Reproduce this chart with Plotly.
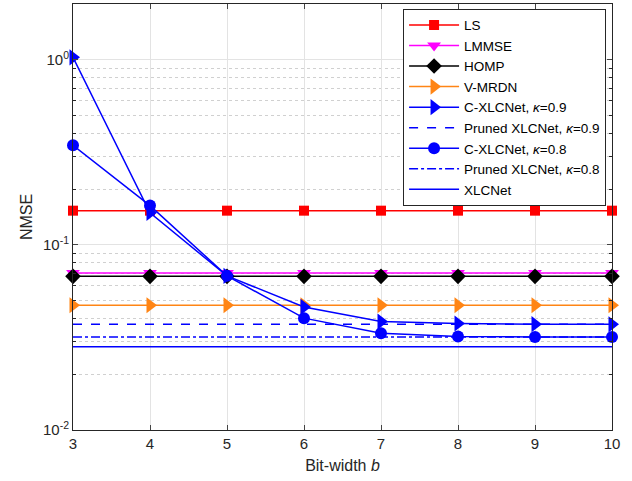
import plotly.graph_objects as go

bits = [3, 4, 5, 6, 7, 8, 9, 10]
ls = [0.153] * 8
lmmse = [0.0705] * 8
homp = [0.0676] * 8
vmrdn = [0.0472] * 8
cx09 = [1.03, 0.149, 0.068, 0.0462, 0.0385, 0.0376, 0.0373, 0.0372]
pr09 = [0.0373] * 8
cx08 = [0.345, 0.163, 0.068, 0.0402, 0.0333, 0.0320, 0.0318, 0.0318]
pr08 = [0.0318] * 8
xlc = [0.0282] * 8

BLUE = "#0000FF"
fig = go.Figure()

def add(name, y, color, dash="solid", symbol=None, size=10):
    mode = "lines+markers" if symbol else "lines"
    fig.add_trace(go.Scatter(
        x=bits, y=y, name=name, mode=mode, cliponaxis=False,
        line=dict(color=color, width=1.5, dash=dash),
        marker=dict(symbol=symbol or "circle", size=size, color=color,
                    line=dict(width=0)),
    ))

add("LS", ls, "#FF0000", symbol="square", size=10)
add("LMMSE", lmmse, "#FF00FF", symbol="triangle-down", size=12)
add("HOMP", homp, "#000000", symbol="diamond", size=12)
add("V-MRDN", vmrdn, "#FF8515", symbol="triangle-right", size=14)
add("C-XLCNet, <i>κ</i>=0.9", cx09, BLUE, symbol="triangle-right", size=14)
add("Pruned XLCNet, <i>κ</i>=0.9", pr09, BLUE, dash="dash")
add("C-XLCNet, <i>κ</i>=0.8", cx08, BLUE, symbol="circle", size=12)
add("Pruned XLCNet, <i>κ</i>=0.8", pr08, BLUE, dash="dashdot")
add("XLCNet", xlc, BLUE)

fig.update_layout(
    width=632, height=481,
    margin=dict(l=73, r=20, t=4, b=51),
    paper_bgcolor="white", plot_bgcolor="white",
    font=dict(family="Liberation Sans, Arial, sans-serif", size=13, color="#262626"),
    showlegend=True,
    legend=dict(x=0.989, xanchor="right", y=0.989, yanchor="top",
                bgcolor="white", bordercolor="#262626", borderwidth=1,
                font=dict(size=13.5, color="#000000"), tracegroupgap=0,
                itemwidth=50),
)
fig.update_xaxes(
    range=[3, 10], tickvals=bits, ticks="inside", ticklen=5,
    showline=True, linecolor="#262626", linewidth=1, mirror="ticks",
    showgrid=True, gridcolor="#E3E3E3", gridwidth=1, zeroline=False,
    title=dict(text="Bit-width <i>b</i>", standoff=8, font=dict(size=16)),
    tickfont=dict(size=15), automargin=False,
)
fig.update_yaxes(
    type="log", range=[-2, 0.301],
    tickvals=[0.01, 0.1, 1], ticktext=["10<sup>-2</sup>", "10<sup>-1</sup>", "10<sup>0</sup>"],
    ticks="inside", ticklen=5,
    showline=True, linecolor="#262626", linewidth=1, mirror="ticks",
    showgrid=True, gridcolor="#E3E3E3", gridwidth=1, zeroline=False,
    minor=dict(dtick="D1", ticks="inside", ticklen=3, showgrid=True,
               gridcolor="#D0D0D0", griddash="dot", gridwidth=1, tickcolor="#262626"),
    title=dict(text="NMSE", standoff=6, font=dict(size=16)),
    tickfont=dict(size=15), automargin=False,
)
fig.write_html("out.html", config={"displayModeBar": False},
               post_script="document.body.style.margin='0px';document.body.style.padding='0px';")
